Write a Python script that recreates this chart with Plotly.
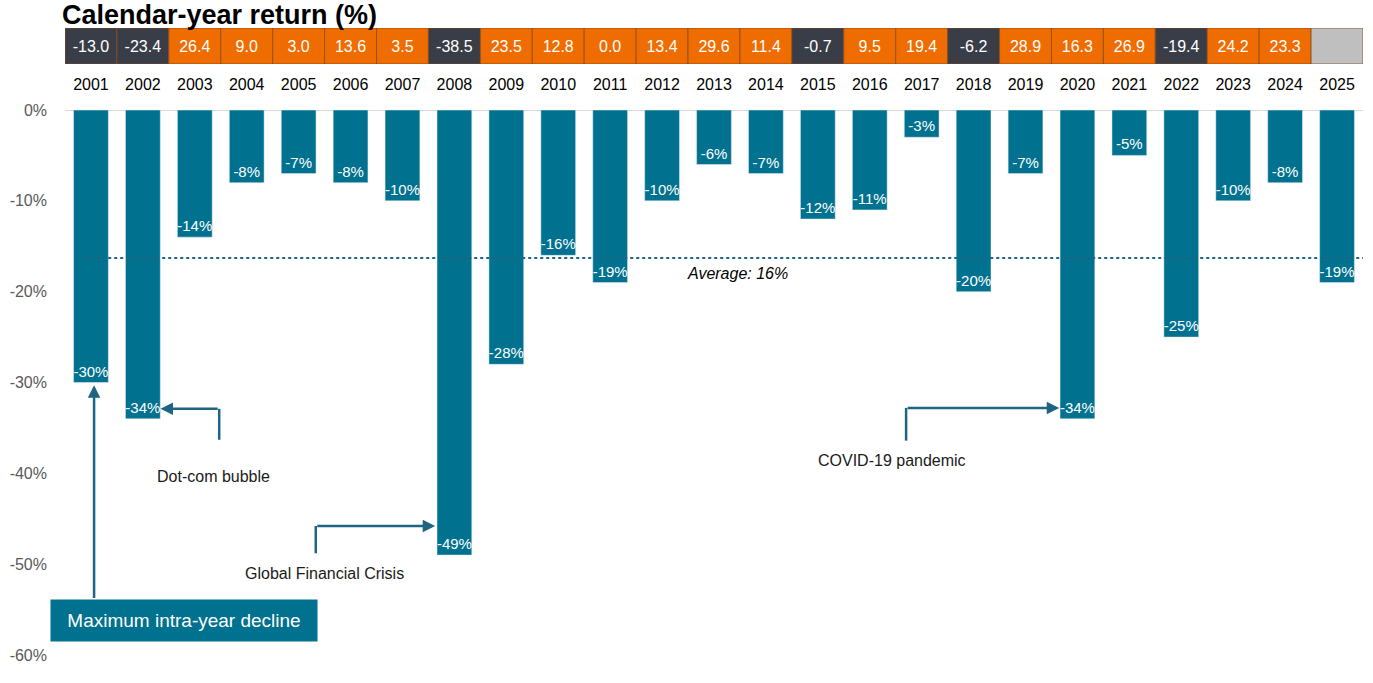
import plotly.graph_objects as go

YEARS = [str(y) for y in range(2001, 2026)]
MAX_DECLINE = [-30, -34, -14, -8, -7, -8, -10, -49, -28, -16, -19, -10, -6, -7,
               -12, -11, -3, -20, -7, -34, -5, -25, -10, -8, -19]
CAL_RETURN = [-13.0, -23.4, 26.4, 9.0, 3.0, 13.6, 3.5, -38.5, 23.5, 12.8, 0.0, 13.4,
              29.6, 11.4, -0.7, 9.5, 19.4, -6.2, 28.9, 16.3, 26.9, -19.4, 24.2, 23.3, None]
AVERAGE = -16.3
Y_TICKS = [0, -10, -20, -30, -40, -50, -60]

BAR = "#00718f"
LINE = "#1d6582"
ORANGE = "#ef6c00"
DARK = "#393d47"
GRAY = "#bfbfbf"
FONT = "Liberation Sans, Arial, sans-serif"

xs = list(range(len(YEARS)))

strip_colors = [GRAY if v is None else (DARK if v < 0 else ORANGE) for v in CAL_RETURN]
strip_text = ["" if v is None else f"{v:.1f}" for v in CAL_RETURN]

fig = go.Figure()
fig.add_trace(go.Bar(
    x=xs, y=MAX_DECLINE, marker_color=BAR,
    text=[f"{v}%" for v in MAX_DECLINE], textposition="inside",
    insidetextanchor="end", textangle=0,
    textfont=dict(color="white", size=15, family=FONT),
    xaxis="x", yaxis="y", hoverinfo="skip", showlegend=False,
))
fig.add_trace(go.Bar(
    x=xs, y=[1] * len(xs), width=[1] * len(xs),
    marker=dict(color=strip_colors, line=dict(color="#8a4a1e", width=0.8)),
    text=strip_text, textposition="inside", insidetextanchor="middle", textangle=0,
    textfont=dict(color="white", size=16, family=FONT),
    xaxis="x2", yaxis="y2", hoverinfo="skip", showlegend=False,
))

W, H = 1373, 683
ML, MR, MT, MB = 59, 10, 28, 28
ph = H - MT - MB

fig.update_layout(
    width=W, height=H,
    margin=dict(l=ML, r=MR, t=MT, b=MB),
    paper_bgcolor="white", plot_bgcolor="white",
    bargap=0.33,
    uniformtext=dict(minsize=14, mode="show"),
    font=dict(family=FONT),
    title=dict(text="<b>Calendar-year return (%)</b>", x=62 / W, xanchor="left",
               xref="container", y=1 - 15 / H, yanchor="middle", yref="container",
               font=dict(size=27, color="black", family=FONT)),
    xaxis=dict(range=[-0.5, 24.5], side="top", tickvals=xs, ticktext=YEARS,
               showgrid=False, zeroline=False, showline=False, ticks="",
               tickfont=dict(size=16, color="black", family=FONT),
               ticklabelstandoff=16, anchor="y"),
    yaxis=dict(domain=[0, 545 / ph], range=[-60, 0], tickvals=Y_TICKS,
               ticktext=[f"{v}%" for v in Y_TICKS], showgrid=False,
               zeroline=True, zerolinecolor="#d9d9d9", zerolinewidth=1,
               tickfont=dict(size=16, color="#595959", family=FONT),
               ticklabelstandoff=17, showline=False, ticks=""),
    xaxis2=dict(range=[-0.5, 24.5], matches="x", anchor="y2", showticklabels=False,
                showgrid=False, zeroline=False, showline=False, ticks=""),
    yaxis2=dict(domain=[(H - MB - 64) / ph, 1], range=[0, 1], showticklabels=False,
                showgrid=False, zeroline=False, showline=False, ticks=""),
)

# average line
fig.add_shape(type="line", xref="x", yref="y", x0=-0.13, x1=24.5, y0=AVERAGE, y1=AVERAGE,
              line=dict(color=LINE, width=2, dash="dot"), layer="above")
fig.add_annotation(x=12.46, y=-17.95, xref="x", yref="y", text="<i>Average: 16%</i>",
                   showarrow=False, font=dict(size=16, color="black", family=FONT))

# elbow callouts
def elbow(cx, y_start, y_corner, tx, label, lx, ly):
    fig.add_shape(type="line", xref="x", yref="y", x0=cx, x1=cx, y0=y_start, y1=y_corner,
                  line=dict(color=LINE, width=2.5), layer="above")
    fig.add_annotation(x=tx, y=y_corner, ax=cx, ay=y_corner, xref="x", yref="y",
                       axref="x", ayref="y", text="", showarrow=True, arrowhead=2,
                       arrowsize=1, arrowwidth=2.5, arrowcolor=LINE, standoff=0)
    fig.add_annotation(x=lx, y=ly, xref="x", yref="y", text=label, showarrow=False,
                       font=dict(size=16, color="#1a1a1a", family=FONT))

elbow(2.47, -36.3, -32.9, 1.34, "Dot-com bubble", 2.36, -40.3)
elbow(4.33, -48.8, -45.8, 6.63, "Global Financial Crisis", 4.5, -51.0)
elbow(15.70, -36.4, -32.8, 18.65, "COVID-19 pandemic", 15.43, -38.6)

# maximum intra-year decline label
fig.add_annotation(x=0.06, y=-30.3, ax=0.06, ay=-53.9, xref="x", yref="y",
                   axref="x", ayref="y", text="", showarrow=True, arrowhead=2,
                   arrowsize=1, arrowwidth=2.5, arrowcolor=LINE, standoff=0)
fig.add_annotation(x=1.80, y=-56.2, xref="x", yref="y", text="Maximum intra-year decline",
                   showarrow=False, bgcolor=BAR, width=260, height=35, borderpad=3,
                   font=dict(size=19, color="white", family=FONT))

fig.write_html("out.html", config={"displayModeBar": False},
               post_script="document.body.style.margin='0px';document.body.style.overflow='hidden';")
